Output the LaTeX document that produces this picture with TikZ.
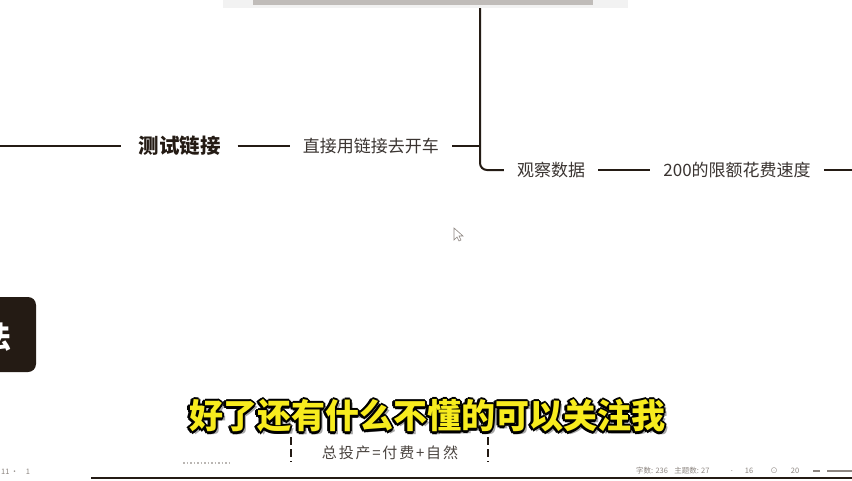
\documentclass[tikz,border=0pt]{standalone}
\usepackage{fontspec}
\setmainfont{Noto Sans CJK SC}
\usetikzlibrary{positioning}

\definecolor{branch}{HTML}{241B14}
\definecolor{topictext}{HTML}{3A3431}
\definecolor{subyellow}{HTML}{F7EB1E}
\definecolor{statusgray}{HTML}{8C8580}
\definecolor{notegray}{HTML}{4A4440}

\begin{document}
\begin{tikzpicture}[x=1pt, y=-1pt,
  node distance=0pt and 52pt,
  topic/.style={inner xsep=13pt, inner ysep=0pt, text=topictext, font=\fontsize{17}{20}\selectfont},
  maintopic/.style={topic, inner xsep=17pt, text=branch, font=\fontsize{20.5}{24}\selectfont\bfseries},
  link/.style={draw=branch, line width=2pt},
  subline/.style={inner sep=0pt, font=\fontsize{34}{40}\selectfont\bfseries},
  status/.style={inner sep=0pt, text=statusgray, font=\fontsize{7.5}{9}\selectfont}
]
  \useasboundingbox[fill=white] (0,0) rectangle (852,480);

  % faint header text strip
  \fill[gray!10] (223,0) rectangle (628,8);
  \fill[statusgray!55] (253,0) rectangle (593,5);

  % mind map branch
  \coordinate (lt) at (0,146);
  \coordinate (top) at (480,8);
  \node[maintopic] (cs) at (179.5,146) {测试链接};
  \node[topic, right=of cs] (zj) {直接用链接去开车};
  \node[topic] (gc) at (551,170) {观察数据};
  \node[topic, right=of gc] (xd) {200的限额花费速度};
  \coordinate (rt) at (852,170);

  \draw[link, line width=2.4pt] (lt) -- (cs);
  \draw[link] (cs) -- (zj);
  \draw[link] (zj.east) -- (zj.east -| top);
  \draw[link, rounded corners=7pt] (top) |- (gc.west);
  \draw[link] (gc) -- (xd);
  \draw[link] (xd.east) -- (rt);

  % mouse pointer
  \draw[statusgray, fill=white, line width=0.6pt] (454,228) -- (454,240) -- (457,237)
    -- (459,241) -- (461,240) -- (459,236) -- (463,236) -- cycle;

  % dark tab on the left, cut by the edge
  \begin{scope}
    \clip (0,0) rectangle (852,480);
    \fill[branch, rounded corners=8pt] (-20,297) rectangle (36,372);
    \node[inner sep=0pt, text=white, font=\fontsize{30}{34}\selectfont\bfseries] (fa) at (-4,337) {法};
  \end{scope}

  % note box below the subtitle
  \draw[branch, line width=2.5pt, dash pattern=on 8pt off 4pt] (291,437) -- (291,462);
  \draw[branch, line width=2.5pt, dash pattern=on 8pt off 4pt] (488,437) -- (488,462);
  \node[inner sep=0pt, text=notegray, font=\fontsize{15}{18}\selectfont\addfontfeatures{LetterSpace=12}] (note) at (390,453) {总投产=付费+自然};

  % subtitle with outline
  \coordinate (subc) at (427,416);
  \node[subline, text=gray!70] at ([shift={(3,3)}]subc) {好了还有什么不懂的可以关注我};
  \foreach \a in {0,45,...,315}
    \node[subline, text=black] at ([shift={(\a:2.5)}]subc) {好了还有什么不懂的可以关注我};
  \node[subline, text=subyellow] (sub) at (subc) {好了还有什么不懂的可以关注我};

  % status bar
  \draw[branch, line width=2pt] (91,478) -- (852,478);
  \node[status, anchor=west] (pg) at (1,472) {11\,·\quad 1};
  \draw[statusgray!60, line width=1.5pt, dotted] (183,463) -- (232,463);
  \node[status, anchor=west] (zs) at (636,471) {字数: 236};
  \node[status, anchor=west, right=6pt of zs] (zt) {主题数: 27};
  \node[status] (dot) at (732,471) {.};
  \node[status] (p16) at (749,471) {16};
  \node[status] (eye) at (774,471) {⊙};
  \node[status] (p20) at (795,471) {20};
  \coordinate (zr) at (852,471);
  \draw[statusgray, line width=1.5pt] (813,471) -- (820,471);
  \draw[statusgray, line width=1.5pt] (827,471) -- (zr);
\end{tikzpicture}
\end{document}
